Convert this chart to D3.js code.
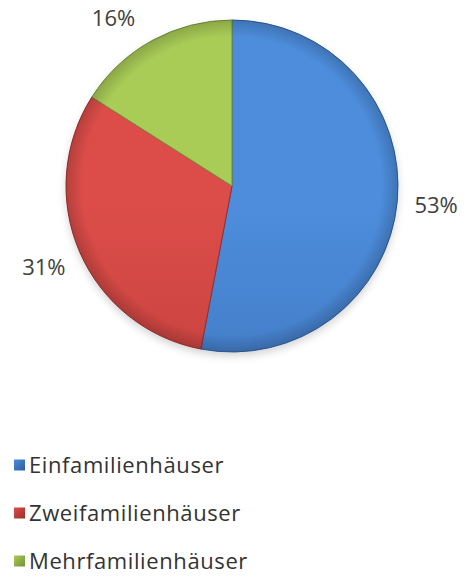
<!DOCTYPE html>
<html>
<head>
<meta charset="utf-8">
<script src="https://cdn.jsdelivr.net/npm/d3@7/dist/d3.min.js"></script>
<style>
  html, body { margin: 0; padding: 0; background: #ffffff; }
  svg { display: block; }
</style>
</head>
<body>
<svg id="chart" width="476" height="578"></svg>
<script>
const categories = ["Einfamilienhäuser", "Zweifamilienhäuser", "Mehrfamilienhäuser"];
const values = [53, 31, 16];
const percentLabels = ["53%", "31%", "16%"];
const colorsTop = ["#4d8ddc", "#dc4d49", "#a9cc57"];
const colorsBottom = ["#3a6db3", "#b53936", "#8bab41"];
const colorsEdge = ["#2f5d9a", "#9a2e2c", "#74913a"];

const W = 476, H = 578;
const cx = 232, cy = 186, R = 166, labelR = 205, labelMinY = 18;

const svg = d3.select("#chart");
const defs = svg.append("defs");

categories.forEach((c, i) => {
  const g = defs.append("linearGradient")
    .attr("id", "grad" + i)
    .attr("gradientUnits", "userSpaceOnUse")
    .attr("x1", cx).attr("y1", cy - R)
    .attr("x2", cx).attr("y2", cy + R);
  g.append("stop").attr("offset", "0%").attr("stop-color", colorsTop[i]);
  g.append("stop").attr("offset", "100%").attr("stop-color", colorsBottom[i]);

  const lg = defs.append("linearGradient")
    .attr("id", "lgrad" + i)
    .attr("x1", 0).attr("y1", 0).attr("x2", 1).attr("y2", 1);
  lg.append("stop").attr("offset", "0%").attr("stop-color", colorsTop[i]);
  lg.append("stop").attr("offset", "100%").attr("stop-color", colorsEdge[i]);
});

const rim = defs.append("radialGradient")
  .attr("id", "rim")
  .attr("gradientUnits", "userSpaceOnUse")
  .attr("cx", cx).attr("cy", cy).attr("r", R);
rim.append("stop").attr("offset", "90%").attr("stop-color", "#000").attr("stop-opacity", 0);
rim.append("stop").attr("offset", "100%").attr("stop-color", "#000").attr("stop-opacity", 0.18);

const shadow = defs.append("filter").attr("id", "shadow")
  .attr("x", "-20%").attr("y", "-20%").attr("width", "140%").attr("height", "140%");
shadow.append("feGaussianBlur").attr("stdDeviation", 4);

const pie = d3.pie().sort(null).value(d => d)(values);
const arc = d3.arc().innerRadius(0).outerRadius(R);

const g = svg.append("g").attr("transform", `translate(${cx},${cy})`);

g.append("circle")
  .attr("cx", 0).attr("cy", 4).attr("r", R)
  .attr("fill", "#000").attr("opacity", 0.18)
  .attr("filter", "url(#shadow)");

const pg = svg.append("g").attr("transform", `translate(${cx},${cy})`);
pg.selectAll("path.slice")
  .data(pie)
  .enter().append("path")
  .attr("class", "slice")
  .attr("d", arc)
  .attr("fill", (d, i) => `url(#grad${i})`)
  .attr("stroke", (d, i) => colorsEdge[i])
  .attr("stroke-width", 1)
  .attr("stroke-linejoin", "round");

svg.append("circle")
  .attr("cx", cx).attr("cy", cy).attr("r", R)
  .attr("fill", "url(#rim)")
  .attr("pointer-events", "none");

function labelPos(d) {
  const a = (d.startAngle + d.endAngle) / 2;
  let x = labelR * Math.sin(a);
  let y = -labelR * Math.cos(a);
  if (cy + y < labelMinY) {
    y = labelMinY - cy;
    x = labelR * 1.2 * Math.sin(a);
  }
  return [x, y];
}

pg.selectAll("text.pct")
  .data(pie)
  .enter().append("text")
  .attr("class", "pct")
  .attr("transform", d => `translate(${labelPos(d)})`)
  .attr("text-anchor", "middle")
  .attr("dy", "0.36em")
  .attr("font-family", "'Open Sans', sans-serif")
  .attr("font-size", 22)
  .attr("fill", "#404040")
  .text((d, i) => percentLabels[i]);

const legendY = d3.scalePoint().domain(categories).range([465, 561]);
const lg = svg.append("g");
const items = lg.selectAll("g.item").data(categories).enter().append("g")
  .attr("class", "item")
  .attr("transform", d => `translate(0,${legendY(d)})`);
items.append("rect")
  .attr("x", 14).attr("y", -5.5).attr("width", 11).attr("height", 11)
  .attr("fill", (d, i) => `url(#lgrad${i})`);
items.append("text")
  .attr("x", 29).attr("y", 0).attr("dy", "0.36em")
  .attr("font-family", "'Open Sans', sans-serif")
  .attr("font-size", 22)
  .attr("letter-spacing", 0.6)
  .attr("fill", "#333333")
  .text(d => d);
</script>
</body>
</html>
